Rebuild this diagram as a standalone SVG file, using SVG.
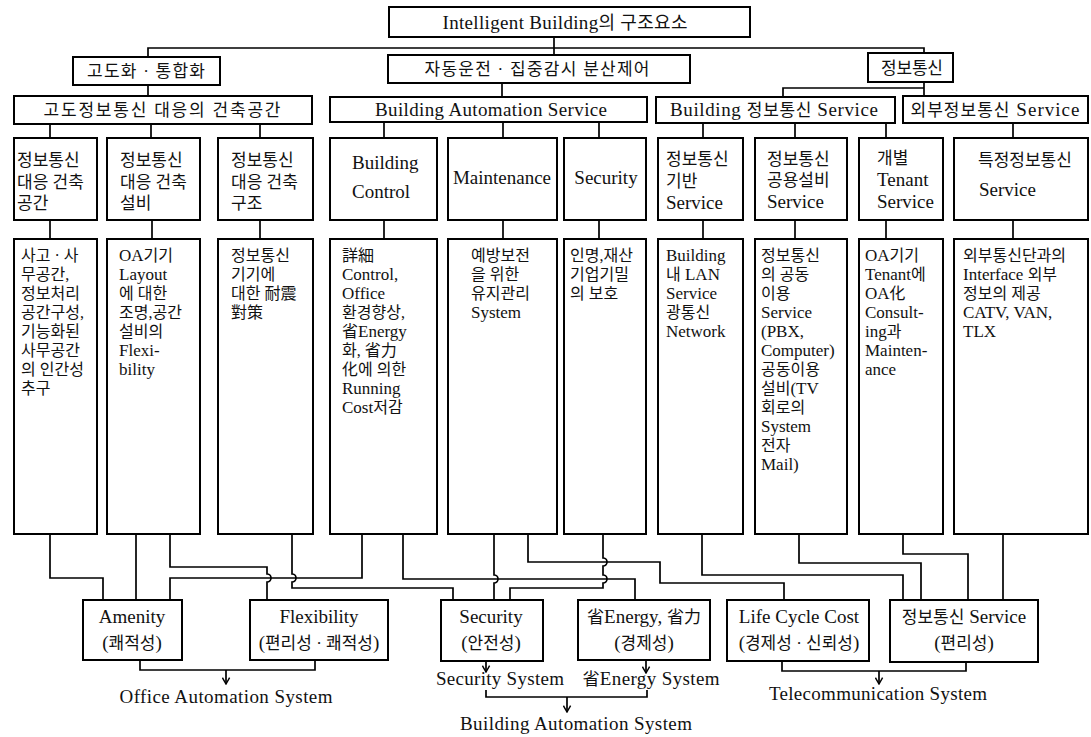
<svg xmlns="http://www.w3.org/2000/svg" width="1091" height="737" viewBox="0 0 1091 737">
<style>
.L{font-family:"Liberation Serif","Noto Sans CJK KR",serif;fill:#111}
.K{font-family:"Liberation Serif","Noto Sans CJK KR",sans-serif;fill:#111}
.a{font-size:17px}
.b{font-size:16px}
.c{font-size:19px}
.d{font-size:17px}
.m{text-anchor:middle}
.box{fill:#fff;stroke:#000;stroke-width:2}
.cn{fill:none;stroke:#000;stroke-width:1.7}
.ar{fill:none;stroke:#000;stroke-width:1.7;marker-end:url(#ah)}
</style>
<defs>
<marker id="ah" viewBox="0 0 10 10" refX="9" refY="5" markerWidth="9" markerHeight="9" markerUnits="userSpaceOnUse" orient="auto">
<path d="M2,1 L9,5 L2,9" fill="none" stroke="#000" stroke-width="1.6"/>
</marker>
</defs>
<rect width="1091" height="737" fill="#fff"/>

<g id="connectors">
<path class="cn" d="M554,37 V55"/>
<path class="cn" d="M148,57 V48 H924 V53"/>
<path class="cn" d="M148,85 V96"/>
<path class="cn" d="M502,83 V97"/>
<path class="cn" d="M924,82 V96"/>
<path class="cn" d="M783,97 V88 H924"/>
<path class="cn" d="M50,124 V138 M151,124 V138 M260,124 V138 M384,122 V138 M503,122 V138 M599,122 V138 M703,123 V138 M795,123 V138 M886,123 V138 M1013,123 V138"/>
<path class="cn" d="M50,220 V239 M152,220 V239 M260,220 V239 M384,220 V239 M503,220 V239 M599,220 V239 M703,220 V239 M795,220 V239 M886,220 V239 M1013,220 V239"/>
<path class="cn" d="M50,534 V578 H103 V600"/>
<path class="cn" d="M136,534 V600"/>
<path class="cn" d="M170,534 V567 H267 V574 a4,4 0 0 1 0,8 V600"/>
<path class="cn" d="M362,534 V578 H170 V600"/>
<path class="cn" d="M292,534 V574 a4,4 0 0 1 0,8 V588 H453 V600"/>
<path class="cn" d="M403,534 V579 H635 V600"/>
<path class="cn" d="M494,534 V575 a4,4 0 0 1 0,8 V600"/>
<path class="cn" d="M528,534 V562 H660 V583 H784 V600"/>
<path class="cn" d="M603,534 V558 a4,4 0 0 1 0,8 V575 a4,4 0 0 1 0,8 V588 H510 V600"/>
<path class="cn" d="M702,534 V575 H903 V600"/>
<path class="cn" d="M799,534 V563 H921 V600"/>
<path class="cn" d="M903,534 V554 H968 V600"/>
<path class="cn" d="M1003,534 V600"/>
<path class="cn" d="M140,660 V670 H315 V660"/>
<path class="ar" d="M226,670 V684"/>
<path class="ar" d="M486,661 V672"/>
<path class="ar" d="M646,660 V673"/>
<path class="cn" d="M486,690 V697 H647 V690"/>
<path class="ar" d="M567,697 V712"/>
<path class="cn" d="M782,661 V671 H966 V662"/>
<path class="ar" d="M879,671 V684"/>
</g>

<g id="n-root"><rect class="box" x="389" y="7" width="361" height="30"/>
<text class="L c m" x="565" y="29" textLength="245" lengthAdjust="spacing">Intelligent Building<tspan class="K" style="font-size:18px">의 구조요소</tspan></text></g>

<g id="n-l1a"><rect class="box" x="73" y="57" width="147" height="28"/>
<text class="K d m" x="146" y="77" textLength="118" lengthAdjust="spacing">고도화 · 통합화</text></g>
<g id="n-l1b"><rect class="box" x="388" y="55" width="302" height="28"/>
<text class="K d m" x="537" y="75" textLength="225" lengthAdjust="spacing">자동운전 · 집중감시 분산제어</text></g>
<g id="n-l1c"><rect class="box" x="868" y="53" width="85" height="29"/>
<text class="K d m" x="912" y="74" textLength="62" lengthAdjust="spacing">정보통신</text></g>

<g id="n-l2a"><rect class="box" x="14" y="96" width="298" height="28"/>
<text class="K d m" x="162" y="116" textLength="237" lengthAdjust="spacing">고도정보통신 대응의 건축공간</text></g>
<g id="n-l2b"><rect class="box" x="330" y="97" width="317" height="25"/>
<text class="L c m" x="491" y="116" textLength="232" lengthAdjust="spacing">Building Automation Service</text></g>
<g id="n-l2c"><rect class="box" x="656" y="97" width="239" height="26"/>
<text class="L c m" x="774" y="116" textLength="208" lengthAdjust="spacing">Building <tspan class="K d">정보통신</tspan> Service</text></g>
<g id="n-l2d"><rect class="box" x="903" y="96" width="185" height="27"/>
<text class="L c m" x="995" y="116" textLength="169" lengthAdjust="spacing"><tspan class="K d">외부정보통신</tspan> Service</text></g>

<g id="n-l3-1"><rect class="box" x="14" y="138" width="83" height="82"/>
<text class="K d"><tspan x="17" y="166">정보통신</tspan><tspan x="17" y="188">대응 건축</tspan><tspan x="17" y="209">공간</tspan></text></g>
<g id="n-l3-2"><rect class="box" x="107" y="138" width="93" height="82"/>
<text class="K d"><tspan x="120" y="166">정보통신</tspan><tspan x="120" y="188">대응 건축</tspan><tspan x="120" y="209">설비</tspan></text></g>
<g id="n-l3-3"><rect class="box" x="218" y="138" width="95" height="82"/>
<text class="K d"><tspan x="231" y="166">정보통신</tspan><tspan x="231" y="188">대응 건축</tspan><tspan x="231" y="209">구조</tspan></text></g>
<g id="n-l3-4"><rect class="box" x="330" y="138" width="107" height="82"/>
<text class="L c"><tspan x="352" y="169">Building</tspan><tspan x="352" y="198">Control</tspan></text></g>
<g id="n-l3-5"><rect class="box" x="448" y="138" width="109" height="82"/>
<text class="L c m" x="502" y="184">Maintenance</text></g>
<g id="n-l3-6"><rect class="box" x="564" y="138" width="82" height="82"/>
<text class="L c m" x="606" y="184">Security</text></g>
<g id="n-l3-7"><rect class="box" x="658" y="138" width="85" height="82"/>
<text class="L c"><tspan class="K d" x="666" y="165">정보통신</tspan><tspan class="K d" x="666" y="187">기반</tspan><tspan x="666" y="209">Service</tspan></text></g>
<g id="n-l3-8"><rect class="box" x="755" y="138" width="92" height="82"/>
<text class="L c"><tspan class="K d" x="767" y="165">정보통신</tspan><tspan class="K d" x="767" y="186">공용설비</tspan><tspan x="767" y="208">Service</tspan></text></g>
<g id="n-l3-9"><rect class="box" x="859" y="138" width="84" height="82"/>
<text class="L c"><tspan class="K d" x="877" y="164">개별</tspan><tspan x="877" y="186">Tenant</tspan><tspan x="877" y="208">Service</tspan></text></g>
<g id="n-l3-10"><rect class="box" x="954" y="138" width="134" height="82"/>
<text class="L c"><tspan class="K d" x="978" y="166">특정정보통신</tspan><tspan x="979" y="196">Service</tspan></text></g>

<g id="n-l4-1"><rect class="box" x="14" y="239" width="83" height="295"/>
<text class="K b"><tspan x="21" y="261">사고 · 사</tspan><tspan x="21" y="280">무공간,</tspan><tspan x="21" y="299">정보처리</tspan><tspan x="21" y="318">공간구성,</tspan><tspan x="21" y="337">기능화된</tspan><tspan x="21" y="356">사무공간</tspan><tspan x="21" y="375">의 인간성</tspan><tspan x="21" y="394">추구</tspan></text></g>
<g id="n-l4-2"><rect class="box" x="107" y="239" width="93" height="295"/>
<text class="L a"><tspan x="119" y="261">OA<tspan class="K b">기기</tspan></tspan><tspan x="119" y="280">Layout</tspan><tspan class="K b" x="119" y="299">에 대한</tspan><tspan class="K b" x="119" y="318">조명,공간</tspan><tspan class="K b" x="119" y="337">설비의</tspan><tspan x="119" y="356">Flexi-</tspan><tspan x="119" y="375">bility</tspan></text></g>
<g id="n-l4-3"><rect class="box" x="218" y="239" width="95" height="295"/>
<text class="K b"><tspan x="231" y="261">정보통신</tspan><tspan x="231" y="280">기기에</tspan><tspan x="231" y="299">대한 耐震</tspan><tspan x="231" y="318">對策</tspan></text></g>
<g id="n-l4-4"><rect class="box" x="330" y="239" width="107" height="295"/>
<text class="L a"><tspan class="K b" x="342" y="261">詳細</tspan><tspan x="342" y="280">Control,</tspan><tspan x="342" y="299">Office</tspan><tspan class="K b" x="342" y="318">환경향상,</tspan><tspan x="342" y="337"><tspan class="K b">省</tspan>Energy</tspan><tspan class="K b" x="342" y="356">화, 省力</tspan><tspan class="K b" x="342" y="375">化에 의한</tspan><tspan x="342" y="394">Running</tspan><tspan x="342" y="413">Cost<tspan class="K b">저감</tspan></tspan></text></g>
<g id="n-l4-5"><rect class="box" x="448" y="239" width="109" height="295"/>
<text class="L a"><tspan class="K b" x="471" y="261">예방보전</tspan><tspan class="K b" x="471" y="280">을 위한</tspan><tspan class="K b" x="471" y="299">유지관리</tspan><tspan x="471" y="318">System</tspan></text></g>
<g id="n-l4-6"><rect class="box" x="564" y="239" width="82" height="295"/>
<text class="K b"><tspan x="570" y="261">인명,재산</tspan><tspan x="570" y="280">기업기밀</tspan><tspan x="570" y="299">의 보호</tspan></text></g>
<g id="n-l4-7"><rect class="box" x="658" y="239" width="85" height="295"/>
<text class="L a"><tspan x="666" y="261">Building</tspan><tspan x="666" y="280"><tspan class="K b">내</tspan> LAN</tspan><tspan x="666" y="299">Service</tspan><tspan class="K b" x="666" y="318">광통신</tspan><tspan x="666" y="337">Network</tspan></text></g>
<g id="n-l4-8"><rect class="box" x="755" y="239" width="92" height="295"/>
<text class="L a"><tspan class="K b" x="761" y="261">정보통신</tspan><tspan class="K b" x="761" y="280">의 공동</tspan><tspan class="K b" x="761" y="299">이용</tspan><tspan x="761" y="318">Service</tspan><tspan x="761" y="337">(PBX,</tspan><tspan x="761" y="356">Computer)</tspan><tspan class="K b" x="761" y="375">공동이용</tspan><tspan x="761" y="394"><tspan class="K b">설비</tspan>(TV</tspan><tspan class="K b" x="761" y="413">회로의</tspan><tspan x="761" y="432">System</tspan><tspan class="K b" x="761" y="451">전자</tspan><tspan x="761" y="470">Mail)</tspan></text></g>
<g id="n-l4-9"><rect class="box" x="859" y="239" width="84" height="295"/>
<text class="L a"><tspan x="865" y="261">OA<tspan class="K b">기기</tspan></tspan><tspan x="865" y="280">Tenant<tspan class="K b">에</tspan></tspan><tspan x="865" y="299">OA<tspan class="K b">化</tspan></tspan><tspan x="865" y="318">Consult-</tspan><tspan x="865" y="337">ing<tspan class="K b">과</tspan></tspan><tspan x="865" y="356">Mainten-</tspan><tspan x="865" y="375">ance</tspan></text></g>
<g id="n-l4-10"><rect class="box" x="954" y="239" width="134" height="295"/>
<text class="L a"><tspan class="K b" x="963" y="261">외부통신단과의</tspan><tspan x="963" y="280">Interface <tspan class="K b">외부</tspan></tspan><tspan class="K b" x="963" y="299">정보의 제공</tspan><tspan x="963" y="318">CATV, VAN,</tspan><tspan x="963" y="337">TLX</tspan></text></g>

<g id="n-amenity"><rect class="box" x="83" y="600" width="99" height="60"/>
<text class="L c m" x="132" y="623">Amenity</text>
<text class="L c m" x="132" y="649">(<tspan class="K d">쾌적성</tspan>)</text></g>
<g id="n-flex"><rect class="box" x="250" y="600" width="138" height="60"/>
<text class="L c m" x="319" y="623">Flexibility</text>
<text class="L c m" x="319" y="649">(<tspan class="K d">편리성 · 쾌적성</tspan>)</text></g>
<g id="n-security"><rect class="box" x="441" y="600" width="102" height="61"/>
<text class="L c m" x="491" y="623">Security</text>
<text class="L c m" x="491" y="649">(<tspan class="K d">안전성</tspan>)</text></g>
<g id="n-energy"><rect class="box" x="578" y="600" width="132" height="60"/>
<text class="L c m" x="644" y="623"><tspan class="K d">省</tspan>Energy, <tspan class="K d">省力</tspan></text>
<text class="L c m" x="644" y="649">(<tspan class="K d">경제성</tspan>)</text></g>
<g id="n-lcc"><rect class="box" x="727" y="600" width="142" height="61"/>
<text class="L c m" x="799" y="623">Life Cycle Cost</text>
<text class="L c m" x="799" y="649">(<tspan class="K d">경제성 · 신뢰성</tspan>)</text></g>
<g id="n-info"><rect class="box" x="890" y="600" width="148" height="62"/>
<text class="L c m" x="964" y="623"><tspan class="K d">정보통신</tspan> Service</text>
<text class="L c m" x="964" y="649">(<tspan class="K d">편리성</tspan>)</text></g>

<g id="n-oas"><text class="L c m" x="226" y="703" textLength="213" lengthAdjust="spacing">Office Automation System</text></g>
<g id="n-secsys"><text class="L c m" x="500" y="685" textLength="128" lengthAdjust="spacing">Security System</text></g>
<g id="n-ensys"><text class="L c m" x="651" y="685" textLength="137" lengthAdjust="spacing"><tspan class="K d">省</tspan>Energy System</text></g>
<g id="n-bas"><text class="L c m" x="576" y="730" textLength="232" lengthAdjust="spacing">Building Automation System</text></g>
<g id="n-tcs"><text class="L c m" x="878" y="700" textLength="218" lengthAdjust="spacing">Telecommunication System</text></g>
</svg>
